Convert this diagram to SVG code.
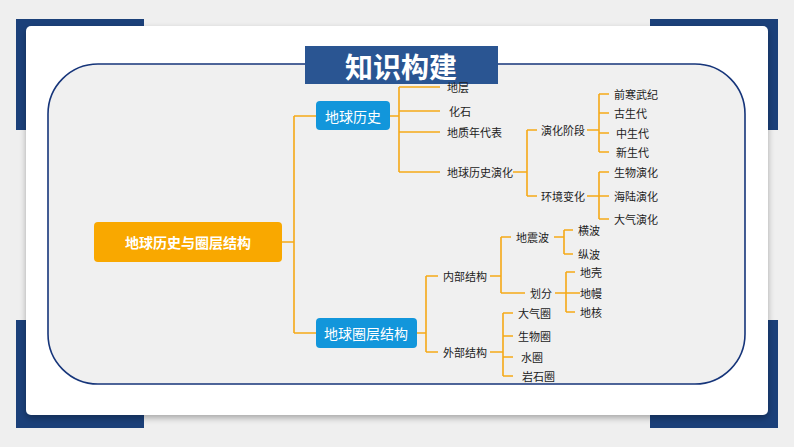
<svg xmlns="http://www.w3.org/2000/svg" width="794" height="447" viewBox="0 0 794 447">
<style>
.c{stroke:#f5a917;stroke-width:1.6;fill:none}
.t{font-family:"Noto Sans CJK SC","Noto Sans",sans-serif;font-size:11px;fill:#222;dominant-baseline:central}
.b{font-family:"Noto Sans CJK SC","Noto Sans",sans-serif;font-size:14px;fill:#fff;text-anchor:middle;dominant-baseline:central}
</style>
<defs><filter id="sh" x="-5%" y="-5%" width="110%" height="110%"><feDropShadow dx="0" dy="3" stdDeviation="3" flood-color="#000" flood-opacity="0.3"/></filter></defs>
<rect width="794" height="447" fill="#efefef"/>
<g fill="#1b4079">
<rect x="16" y="19" width="128" height="111"/>
<rect x="650" y="19" width="128" height="111"/>
<rect x="16" y="320" width="128" height="108"/>
<rect x="650" y="320" width="128" height="108"/>
</g>
<rect x="26" y="26" width="742" height="389" rx="5" fill="#fff" filter="url(#sh)"/>
<rect x="48" y="64" width="697" height="320" rx="50" fill="#f0f0f0" stroke="#16357a" stroke-width="1.6"/>
<g id="title"><rect x="305" y="46" width="193" height="38" fill="#2a5592"/>
<text x="401" y="66" font-family="Noto Sans CJK SC,sans-serif" font-size="28" font-weight="bold" fill="#fff" text-anchor="middle" dominant-baseline="central">知识构建</text></g>
<g id="connectors" class="c">
<path d="M282 242H294M294 116V333M294 116H316M294 333H316"/>
<path d="M390 116H399M399 87V172M399 87H440M399 111H440M399 132H440M399 172H440"/>
<path d="M513 172H527M527 130V196M527 130H537M527 196H537"/>
<path d="M587 130H599M599 94V152M599 94H609M599 113H609M599 133H609M599 152H609"/>
<path d="M587 196H599M599 172V219M599 172H609M599 196H609M599 219H609"/>
<path d="M417 333H426M426 276V352M426 276H438M426 352H438"/>
<path d="M490 276H501M501 237V293M501 237H511M501 293H525"/>
<path d="M554 237H564M564 230V254M564 230H573M564 254H573"/>
<path d="M555 293H580M566 272V312M566 272H575M566 312H575"/>
<path d="M490 352H503M503 313V376M503 313H513M503 336H513M503 357H513M503 376H513"/>
</g>
<g id="root"><rect x="94" y="222" width="188" height="40" rx="4" fill="#f9a800"/><text class="b" x="188" y="242" font-size="17" font-weight="bold">地球历史与圈层结构</text></g>
<g id="n1"><rect x="316" y="101" width="74" height="29" rx="4" fill="#1296db"/><text class="b" x="353" y="116">地球历史</text></g>
<g id="n2"><rect x="316" y="318" width="101" height="30" rx="4" fill="#1296db"/><text class="b" x="366" y="333">地球圈层结构</text></g>
<g id="leaves">
<text class="t" x="447" y="87">地层</text>
<text class="t" x="449" y="111">化石</text>
<text class="t" x="447" y="132">地质年代表</text>
<text class="t" x="447" y="172">地球历史演化</text>
<text class="t" x="541" y="130">演化阶段</text>
<text class="t" x="541" y="196">环境变化</text>
<text class="t" x="614" y="94">前寒武纪</text>
<text class="t" x="614" y="113">古生代</text>
<text class="t" x="616" y="133">中生代</text>
<text class="t" x="616" y="152">新生代</text>
<text class="t" x="614" y="172">生物演化</text>
<text class="t" x="614" y="196">海陆演化</text>
<text class="t" x="614" y="219">大气演化</text>
<text class="t" x="443" y="276">内部结构</text>
<text class="t" x="443" y="352">外部结构</text>
<text class="t" x="516" y="237">地震波</text>
<text class="t" x="530" y="293">划分</text>
<text class="t" x="578" y="230">横波</text>
<text class="t" x="578" y="254">纵波</text>
<text class="t" x="580" y="272">地壳</text>
<text class="t" x="580" y="293">地幔</text>
<text class="t" x="580" y="312">地核</text>
<text class="t" x="518" y="313">大气圈</text>
<text class="t" x="518" y="336">生物圈</text>
<text class="t" x="521" y="357">水圈</text>
<text class="t" x="522" y="376">岩石圈</text>
</g>
</svg>
